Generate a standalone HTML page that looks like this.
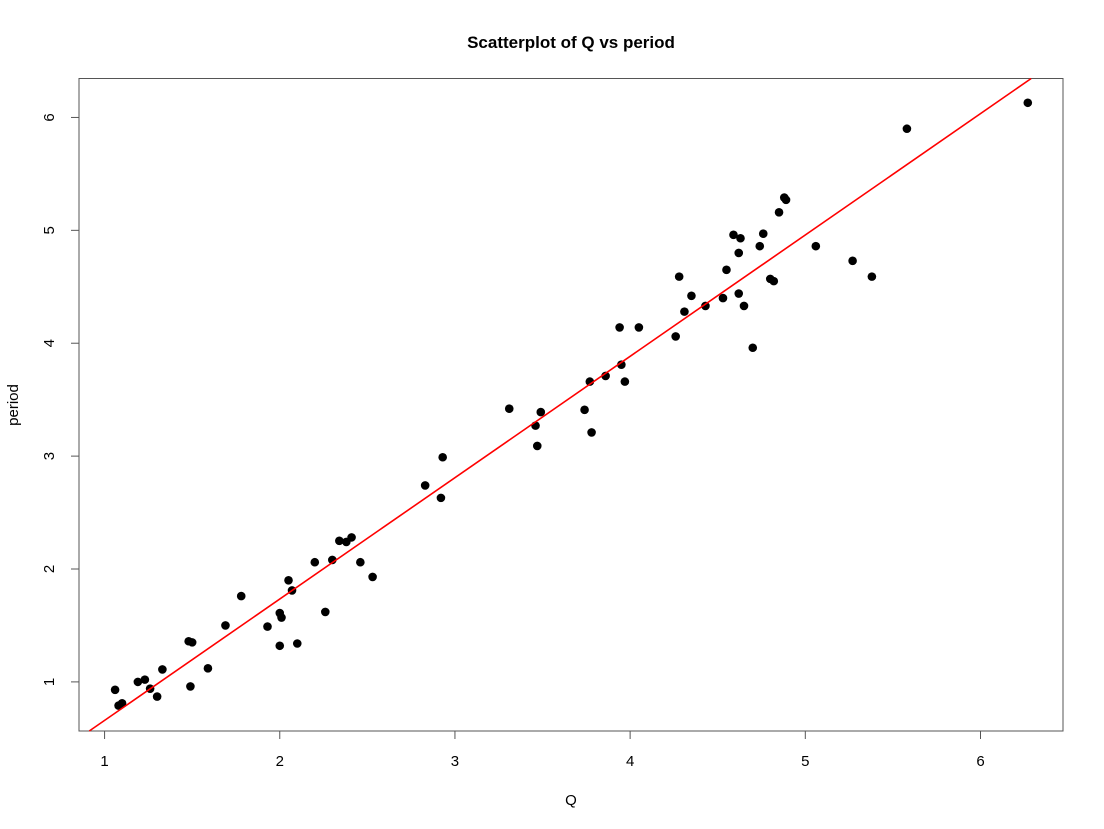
<!DOCTYPE html>
<html><head><meta charset="utf-8"><style>
html,body{margin:0;padding:0;background:#fff;}
svg{display:block;font-family:"Liberation Sans",Arial,sans-serif;}
</style></head><body>
<svg id="chart" width="1104" height="829">
<text x="571" y="48" text-anchor="middle" font-size="17" font-weight="bold">Scatterplot of Q vs period</text>
<text x="571" y="805" text-anchor="middle" font-size="15">Q</text>
<text transform="translate(18,405) rotate(-90)" text-anchor="middle" font-size="15">period</text>
<rect x="79" y="78.5" width="984" height="652.5" fill="none" stroke="#555" stroke-width="1"/>
<g id="xaxis"></g>
<g id="yaxis"></g>
<g id="points"></g>
<g id="fit"></g>
</svg>
<script>
const xTicks = [1,2,3,4,5,6];
const yTicks = [1,2,3,4,5,6];
const qValues = [1.06,1.08,1.10,1.19,1.23,1.26,1.30,1.33,1.48,1.50,1.49,1.59,1.69,1.78,1.93,2.00,2.01,2.00,2.05,2.07,2.10,2.20,2.26,2.30,2.34,2.38,2.41,2.46,2.53,2.83,2.92,2.93,3.31,3.46,3.47,3.49,3.74,3.77,3.78,3.86,3.94,3.95,3.97,4.05,4.26,4.28,4.31,4.35,4.43,4.53,4.55,4.59,4.62,4.62,4.63,4.65,4.70,4.74,4.76,4.80,4.82,4.85,4.88,4.89,5.06,5.27,5.38,5.58,6.27];
const periodValues = [0.93,0.79,0.81,1.00,1.02,0.94,0.87,1.11,1.36,1.35,0.96,1.12,1.50,1.76,1.49,1.61,1.57,1.32,1.90,1.81,1.34,2.06,1.62,2.08,2.25,2.24,2.28,2.06,1.93,2.74,2.63,2.99,3.42,3.27,3.09,3.39,3.41,3.66,3.21,3.71,4.14,3.81,3.66,4.14,4.06,4.59,4.28,4.42,4.33,4.40,4.65,4.96,4.80,4.44,4.93,4.33,3.96,4.86,4.97,4.57,4.55,5.16,5.29,5.27,4.86,4.73,4.59,5.90,6.13];
const fitIntercept = -0.416;
const fitSlope = 1.075;

const NS="http://www.w3.org/2000/svg";
const L=79,R=1063,T=78.5,B=731;
const xMin=0.854,xMax=6.471,yMin=0.565,yMax=6.345;
const sx=v=>L+(v-xMin)/(xMax-xMin)*(R-L);
const sy=v=>B-(v-yMin)/(yMax-yMin)*(B-T);
function mk(tag,attrs,parent){const e=document.createElementNS(NS,tag);for(const k in attrs)e.setAttribute(k,attrs[k]);parent.appendChild(e);return e;}
const xa=document.getElementById('xaxis'),ya=document.getElementById('yaxis');
xTicks.forEach(t=>{
  const x=sx(t);
  const ln=mk('line',{x1:x,x2:x,y1:B,y2:B+8,stroke:'#555'},xa);
  
  
  const tx=mk('text',{x:x,y:B+35,'text-anchor':'middle','font-size':15},xa);
  tx.textContent=t;
  
  
});
yTicks.forEach(t=>{
  const y=sy(t);
  const ln=mk('line',{x1:L-8,x2:L,y1:y,y2:y,stroke:'#555'},ya);
  
  
  const tx=mk('text',{x:0,y:0,'text-anchor':'middle','font-size':15,transform:`translate(${L-25},${y}) rotate(-90)`},ya);
  tx.textContent=t;
  
  
});
const pg=document.getElementById('points');
qValues.forEach((q,i)=>{
  const c=mk('circle',{cx:sx(q),cy:sy(periodValues[i]),r:4.3,fill:'#000'},pg);
  
  
});
// regression line clipped to plot box
const fg=document.getElementById('fit');
let x0=xMin,x1=xMax;
const xb=(yMin-fitIntercept)/fitSlope, xt=(yMax-fitIntercept)/fitSlope;
x0=Math.max(x0,Math.min(xb,xt)); x1=Math.min(x1,Math.max(xb,xt));
const line=mk('line',{x1:sx(x0),y1:sy(fitIntercept+fitSlope*x0),x2:sx(x1),y2:sy(fitIntercept+fitSlope*x1),stroke:'#ff0000','stroke-width':1.6},fg);


</script>
</body></html>
